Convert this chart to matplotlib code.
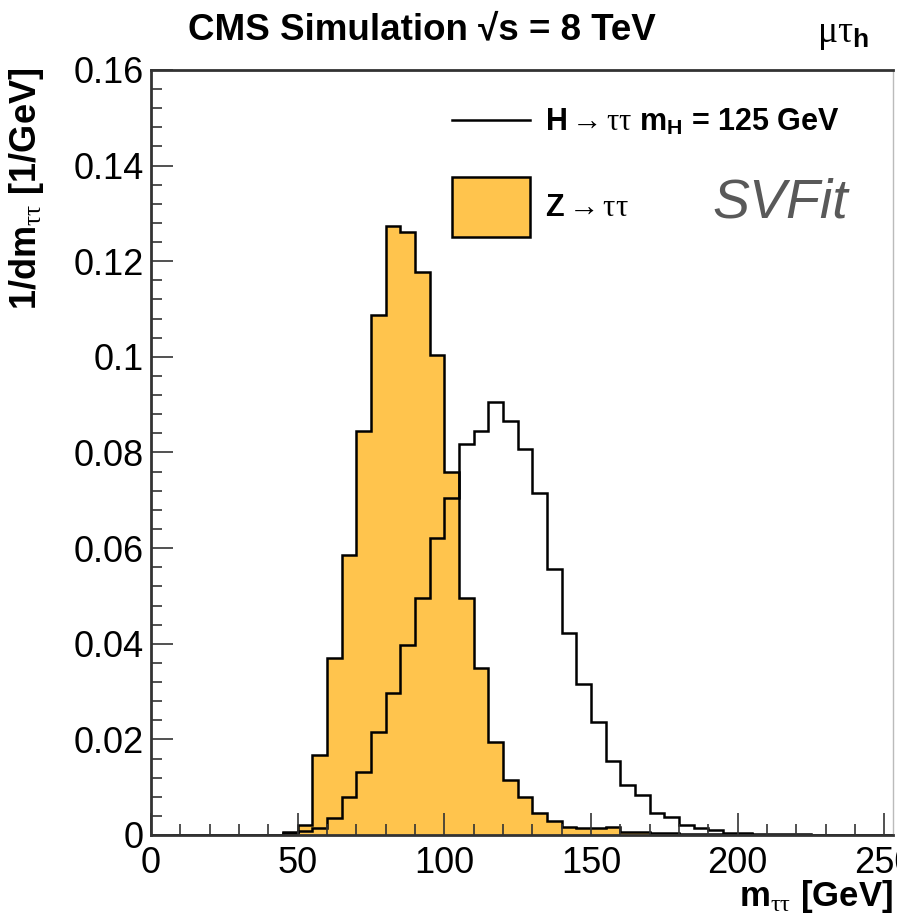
import numpy as np
import matplotlib.pyplot as plt
from matplotlib.ticker import MultipleLocator, FuncFormatter

# fuentes tipo ROOT (Helvetica -> Liberation Sans, Symbol -> Liberation Serif)
plt.rcParams['font.family'] = ['Liberation Sans', 'DejaVu Sans']
plt.rcParams['mathtext.fontset'] = 'custom'
plt.rcParams['mathtext.rm'] = 'Liberation Serif'
plt.rcParams['mathtext.it'] = 'Liberation Serif:italic'
plt.rcParams['mathtext.bf'] = 'Liberation Sans:bold'

# bins de 5 GeV
edges = np.arange(0, 260, 5)

# Z -> tautau (relleno naranja)
z_vals = [0, 0, 0, 0, 0, 0, 0, 0, 0.0001, 0.0004,
          0.0021, 0.0167, 0.0370, 0.0586, 0.0844, 0.1088, 0.1273, 0.1262, 0.1178, 0.1004,
          0.0760, 0.0495, 0.0349, 0.0194, 0.0116, 0.0079, 0.0046, 0.0029, 0.0017, 0.0014,
          0.0014, 0.0016, 0.0007, 0.0006, 0.0004, 0.0005, 0.0003, 0.0003, 0.0002, 0.0002,
          0.0001, 0.0001, 0.0001, 0.0001, 0.0, 0.0, 0.0, 0.0, 0.0, 0.0, 0.0]

# H -> tautau, mH = 125 GeV (solo contorno)
h_vals = [0, 0, 0, 0, 0, 0, 0, 0, 0.0001, 0.0006,
          0.0009, 0.0014, 0.0035, 0.0080, 0.0132, 0.0216, 0.0296, 0.0397, 0.0495, 0.0621,
          0.0704, 0.0818, 0.0844, 0.0906, 0.0865, 0.0808, 0.0715, 0.0556, 0.0423, 0.0316,
          0.0237, 0.0154, 0.0105, 0.0084, 0.0045, 0.0037, 0.0021, 0.0015, 0.0010, 0.0005,
          0.0004, 0.0003, 0.0003, 0.0002, 0.0002, 0.0001, 0.0001, 0.0001, 0.0001, 0.0001, 0.0001]

fig = plt.figure(figsize=(8.97, 9.24), dpi=100)
ax = fig.add_axes([151 / 897, 89 / 924, 742 / 897, 765 / 924])

z = ax.stairs(z_vals, edges, fill=True, facecolor='#ffc44d', edgecolor='black',
              linewidth=1.8, label=r'Z$\rightarrow\mathrm{\tau\tau}$')
h = ax.stairs(h_vals, edges, color='black', linewidth=1.8,
              label=r'H$\rightarrow\mathrm{\tau\tau}$ m$_\mathbf{H}$ = 125 GeV')

ax.set_xlim(0, 742 / 2.9333)
ax.set_ylim(0, 0.16)

# ejes y ticks
for s in ['top', 'left', 'bottom']:
    ax.spines[s].set_linewidth(2)
    ax.spines[s].set_color('#333333')
ax.spines['right'].set_linewidth(1)
ax.spines['right'].set_color('#bbbbbb')

ax.xaxis.set_major_locator(MultipleLocator(50))
ax.xaxis.set_minor_locator(MultipleLocator(10))
ax.yaxis.set_major_locator(MultipleLocator(0.02))
ax.yaxis.set_minor_locator(MultipleLocator(0.004))
ax.yaxis.set_major_formatter(FuncFormatter(lambda v, p: '%g' % round(v, 4)))
ax.tick_params(which='both', direction='in', top=False, right=False,
               color='#333333', width=1.2)
ax.tick_params(which='major', length=16, labelsize=26)
ax.tick_params(which='minor', length=8)
ax.tick_params(axis='x', pad=8)
ax.tick_params(axis='y', pad=5)

ax.set_ylabel(r'1/dm$_{\mathrm{\tau\tau}}$ [1/GeV]', fontsize=26, fontweight='bold', loc='top')
ax.yaxis.set_label_coords(-0.142, 1.003)
ax.set_xlabel(r'm$_{\mathrm{\tau\tau}}$ [GeV]', fontsize=25, fontweight='bold', loc='right')
ax.xaxis.set_label_coords(1.0, -0.056)

# leyenda: dos cajas, una para la linea y otra para el relleno (como en ROOT)
leg_h = ax.legend(handles=[h], loc='center left', bbox_to_anchor=(452 / 897, 1 - 122 / 924),
                  bbox_transform=fig.transFigure, frameon=False,
                  prop={'weight': 'bold', 'size': 22}, borderpad=0, borderaxespad=0,
                  handlelength=2.55, handleheight=0.7, handletextpad=0.5)
ax.add_artist(leg_h)
ax.legend(handles=[z], loc='center left', bbox_to_anchor=(452 / 897, 1 - 207 / 924),
          bbox_transform=fig.transFigure, frameon=False,
          prop={'weight': 'bold', 'size': 22}, borderpad=0, borderaxespad=0,
          handlelength=2.55, handleheight=2.64, handletextpad=0.5)

fig.text(422 / 897, 1 - 30 / 924, 'CMS Simulation √s = 8 TeV', ha='center', va='center',
         fontsize=26.5, fontweight='bold')
fig.text(843 / 897, 1 - 34 / 924, r'$\mathrm{\mu\tau}_\mathbf{h}$', ha='center', va='center',
         fontsize=27)
fig.text(712 / 897, 1 - 218 / 924, 'SVFit', ha='left', va='baseline', fontsize=40,
         style='italic', color='#595959')

plt.savefig('out.png', dpi=100)
